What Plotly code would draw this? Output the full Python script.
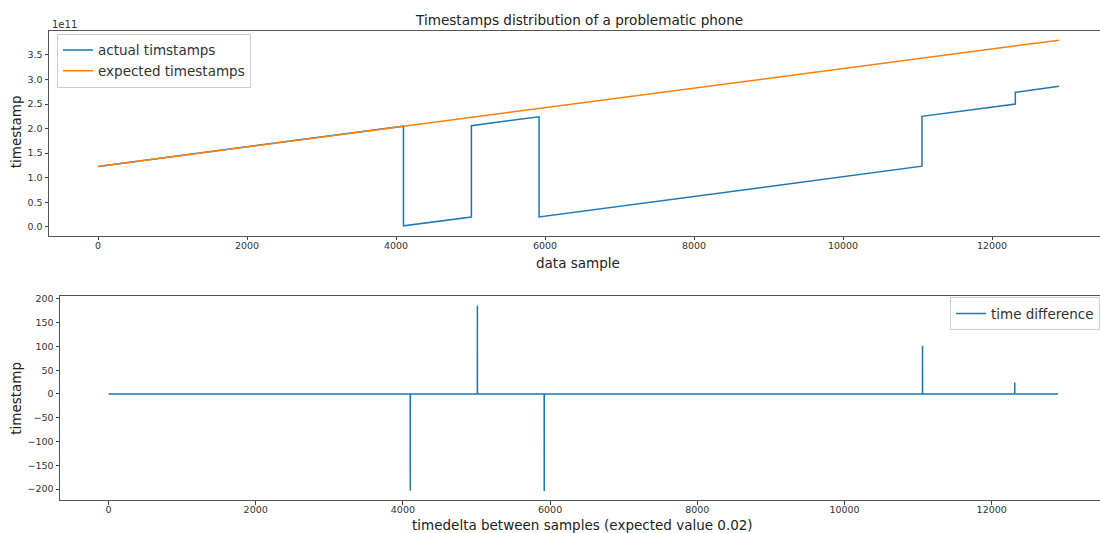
import plotly.graph_objects as go

# Sample index / timestamp (ns) vertices of the recorded timestamps
actual_idx = [0, 4100, 4100, 5012, 5012, 5920, 5920, 11060, 11060, 12313, 12313, 12900]
actual_ts = [1.23e11, 2.05e11, 0.02e11, 0.20e11, 2.06e11, 2.24e11, 0.20e11,
             1.235e11, 2.25e11, 2.50e11, 2.74e11, 2.86e11]

# Expected timestamps: start and end of the ideal 0.02 s sampling line
expected_idx = [0, 12900]
expected_ts = [1.23e11, 3.80e11]

# Time difference between consecutive samples (s)
diff_first, diff_last = 0, 12900
diff_base = 0.02
spike_idx = [4100, 5012, 5920, 11060, 12313]
spike_val = [-203, 186, -204, 101, 24]

x_ticks = [0, 2000, 4000, 6000, 8000, 10000, 12000]
ts_tick_labels = ["0.0", "0.5", "1.0", "1.5", "2.0", "2.5", "3.0", "3.5"]
diff_ticks = [-200, -150, -100, -50, 0, 50, 100, 150, 200]

# build the difference polyline: baseline with one-sample spikes
diff_x, diff_y = [diff_first], [diff_base]
for i, v in zip(spike_idx, spike_val):
    diff_x += [i - 1, i, i + 1]
    diff_y += [diff_base, v, diff_base]
diff_x.append(diff_last)
diff_y.append(diff_base)

BLUE = "#1f77b4"
ORANGE = "#ff7f0e"
FONT = "DejaVu Sans"
W, H = 1120, 533   # figure is a little wider than the window; right edge runs off-page

# axes boxes in paper fractions (left, bottom, top)
TOP_AX = dict(x0=49 / W, y0=1 - 234 / H, y1=1 - 28 / H)
BOT_AX = dict(x0=60 / W, y0=1 - 500 / H, y1=1 - 295 / H)

fig = go.Figure()
fig.add_trace(go.Scatter(x=actual_idx, y=actual_ts, mode="lines", name="actual timstamps",
                         line=dict(color=BLUE, width=1.5), xaxis="x", yaxis="y", legend="legend"))
fig.add_trace(go.Scatter(x=expected_idx, y=expected_ts, mode="lines", name="expected timestamps",
                         line=dict(color=ORANGE, width=1.5), xaxis="x", yaxis="y", legend="legend"))
fig.add_trace(go.Scatter(x=diff_x, y=diff_y, mode="lines", name="time difference",
                         line=dict(color=BLUE, width=1.5), xaxis="x2", yaxis="y2", legend="legend2"))

tick_font = dict(family=FONT, size=9.5, color="#333333")
axis_common = dict(showgrid=False, zeroline=False, showline=True, linecolor="#555555", linewidth=1,
                   ticks="outside", ticklen=3.5, tickwidth=1, tickcolor="#444444", tickfont=tick_font)

x_ticktext = [str(t) for t in x_ticks]
ts_tickvals = [float(t) * 1e11 for t in ts_tick_labels]
diff_ticktext = [str(v).replace("-", "\u2212") for v in diff_ticks]

legend_font = dict(family=FONT, size=13.5, color="#333333")

fig.update_layout(
    width=W, height=H,
    margin=dict(l=0, r=0, t=0, b=0),
    paper_bgcolor="white", plot_bgcolor="white",
    font=dict(family=FONT, color="#333333"),
    xaxis=dict(domain=[TOP_AX["x0"], 1], range=[-658, 13718], tickvals=x_ticks,
               ticktext=x_ticktext, ticklabelstandoff=-3, mirror=True, anchor="y", **axis_common),
    yaxis=dict(domain=[TOP_AX["y0"], TOP_AX["y1"]], range=[-0.18e11, 3.99e11],
               tickvals=ts_tickvals, ticktext=ts_tick_labels, anchor="x", **axis_common),
    xaxis2=dict(domain=[BOT_AX["x0"], 1], range=[-659, 13743], tickvals=x_ticks,
                ticktext=x_ticktext, ticklabelstandoff=-3, mirror=True, anchor="y2", **axis_common),
    yaxis2=dict(domain=[BOT_AX["y0"], BOT_AX["y1"]], range=[-223.5, 205.5],
                tickvals=diff_ticks, ticktext=diff_ticktext, anchor="x2", **axis_common),
    legend=dict(x=57 / W, y=1 - 31 / H, xanchor="left", yanchor="top", itemwidth=30,
                tracegroupgap=0, bgcolor="rgba(255,255,255,0.8)", bordercolor="#cccccc",
                borderwidth=1, font=legend_font),
    legend2=dict(x=950 / W, y=1 - 296 / H, xanchor="left", yanchor="top", itemwidth=30,
                 bgcolor="rgba(255,255,255,0.8)", bordercolor="#cccccc", borderwidth=1,
                 font=legend_font),
    showlegend=True,
)

annotations = [
    dict(text="Timestamps distribution of a problematic phone", x=579 / W, y=1 - 17 / H,
         font=dict(size=13.6, color="#222222")),
    dict(text="1e11", x=50 / W, y=1 - 22 / H, xanchor="left", font=dict(size=10, color="#333333")),
    dict(text="data sample", x=578 / W, y=1 - 261 / H, font=dict(size=13.5, color="#222222")),
    dict(text="timestamp", x=16 / W, y=1 - 130 / H, textangle=-90, font=dict(size=13.5, color="#222222")),
    dict(text="timedelta between samples (expected value 0.02)", x=582 / W, y=1 - 525 / H,
         font=dict(size=13.5, color="#222222")),
    dict(text="timestamp", x=16 / W, y=1 - 398 / H, textangle=-90, font=dict(size=13.5, color="#222222")),
]
for a in annotations:
    a.setdefault("xanchor", "center")
    fig.add_annotation(xref="paper", yref="paper", yanchor="middle", showarrow=False,
                       font_family=FONT, **a)

fig.write_html("out.html")
